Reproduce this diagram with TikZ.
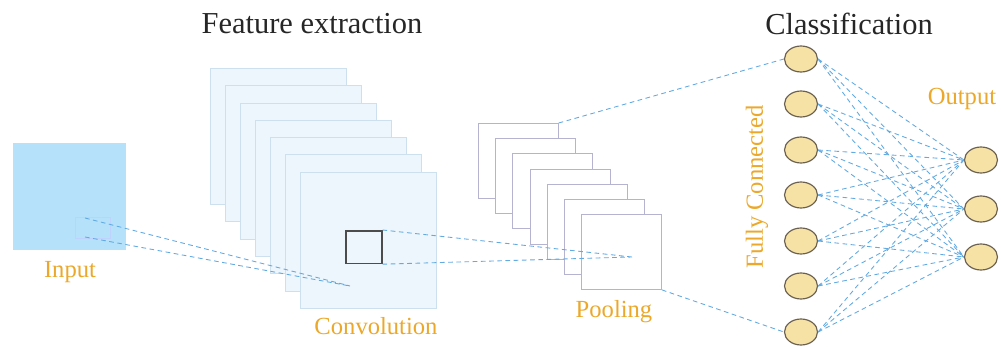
\documentclass[tikz,border=0pt]{standalone}
\usepackage{fontspec}
\setmainfont{Liberation Serif}
\usetikzlibrary{shapes.geometric}
\definecolor{inblue}{HTML}{B5E2FA}
\definecolor{sheetfill}{HTML}{EDF6FC}
\definecolor{sheetline}{HTML}{CCE0EE}
\definecolor{poolline}{HTML}{B4B4D2}
\definecolor{linkblue}{HTML}{62AAE2}
\definecolor{lblorange}{HTML}{EBA82A}
\definecolor{unitfill}{HTML}{F7E2A6}
\definecolor{unitline}{HTML}{6A6050}
\begin{document}
\begin{tikzpicture}[x=0.03cm,y=-0.03cm,inner sep=0,
	lbl/.style={text=lblorange,font=\fontsize{21}{24}\selectfont},
	title/.style={text=black!85,font=\fontsize{26}{30}\selectfont},
	convsheet/.style={draw=sheetline,fill=sheetfill,line width=.6pt,minimum width=4.08cm,minimum height=4.08cm,anchor=north west},
	poolsheet/.style={draw=poolline,fill=white,line width=.6pt,minimum width=2.4cm,minimum height=2.25cm,anchor=north west},
	unit/.style={ellipse,draw=unitline,fill=unitfill,line width=1pt,minimum width=.99cm,minimum height=.78cm},
	link/.style={draw=linkblue,dashed,dash pattern=on 4pt off 3pt,line width=.75pt}]
	\useasboundingbox (0,0) rectangle (1001,347);
	\node[title] (fe) at (312,24){Feature extraction};
	\node[title] (cl) at (849,24){Classification};
	% input image
	\node[fill=inblue,minimum width=3.39cm,minimum height=3.21cm,anchor=north west] (in) at (13,143){};
	\node[draw=inblue!80!blue!60,line width=.4pt,minimum width=1.05cm,minimum height=.63cm,anchor=north west] (win) at (75,217){};
	\node[lbl] (inl) at (70,272){Input};
	% convolution maps
	\foreach \i in {0,...,6}
		\node[convsheet] (cv\i) at (210+15*\i,68+17.3*\i){};
	\node[draw=black!70,line width=1.3pt,minimum width=1.08cm,minimum height=.98cm,anchor=north west] (ker) at (345,230){};
	\node[lbl] (cvl) at (376,326){Convolution};
	\coordinate (w1) at (85,218);
	\coordinate (w2) at (85,237);
	\coordinate (cp) at (350,286);
	\draw[link] (w1)--(cp) (w2)--(cp);
	% pooling maps
	\foreach \i in {0,...,6}
		\node[poolsheet] (pl\i) at (478+17.2*\i,123+15.2*\i){};
	\node[lbl] (pll) at (614,312){Pooling};
	\coordinate (pp) at (632,257);
	\draw[link] (ker.north east)--(pp) (ker.south east)--(pp);
	% fully connected + output
	\foreach \j/\y in {1/59,2/104,3/150,4/195,5/241,6/286,7/332}
		\node[unit] (f\j) at (801,\y){};
	\foreach \k/\y in {1/160,2/209,3/257}
		\node[unit] (o\k) at (981,\y){};
	\node[lbl,rotate=90] (fcl) at (757,187){Fully Connected};
	\node[lbl] (outl) at (962,99){Output};
	\draw[link] (pl0.north east)--(f1.west) (pl6.south east)--(f7.west);
	\foreach \j in {1,...,7}
		\foreach \k in {1,2,3}
			\draw[link] (f\j.east)--(o\k.west);
\end{tikzpicture}
\end{document}
